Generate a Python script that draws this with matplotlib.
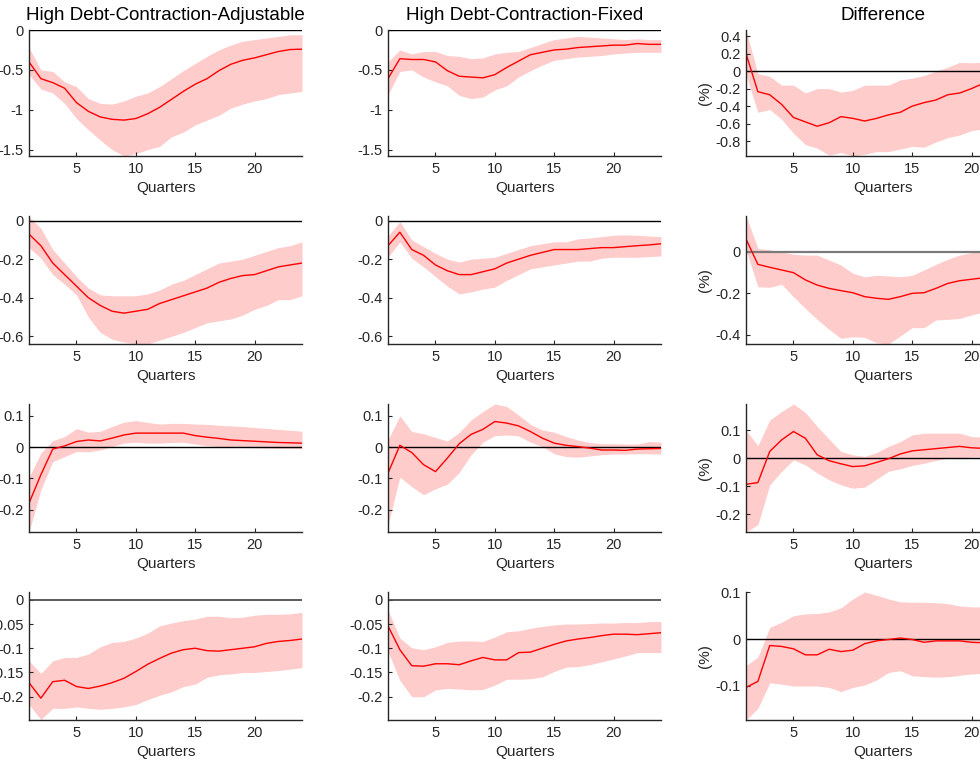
import numpy as np
import matplotlib
matplotlib.use("Agg")
import matplotlib.pyplot as plt
from matplotlib.ticker import FuncFormatter

plt.rcParams['font.family'] = ['Liberation Sans', 'DejaVu Sans']
plt.rcParams['axes.unicode_minus'] = False

# ==============================
# Data
# ==============================
quarters = np.arange(1, 25)

col_titles = ["High Debt-Contraction-Adjustable", "High Debt-Contraction-Fixed", "Difference"]

# row 1
adj1_mid = [-0.40, -0.61, -0.66, -0.73, -0.91, -1.02, -1.09, -1.12, -1.13, -1.11, -1.05, -0.97,
            -0.87, -0.77, -0.68, -0.61, -0.51, -0.43, -0.38, -0.35, -0.31, -0.27, -0.245, -0.24]
adj1_hi = [-0.22, -0.50, -0.52, -0.65, -0.71, -0.86, -0.92, -0.93, -0.89, -0.83, -0.79, -0.71,
           -0.61, -0.51, -0.42, -0.33, -0.25, -0.19, -0.14, -0.12, -0.10, -0.08, -0.06, -0.06]
adj1_lo = [-0.56, -0.74, -0.79, -0.92, -1.11, -1.25, -1.38, -1.50, -1.58, -1.55, -1.50, -1.46,
           -1.34, -1.28, -1.19, -1.13, -1.07, -0.98, -0.93, -0.89, -0.86, -0.81, -0.79, -0.77]
fix1_mid = [-0.61, -0.36, -0.37, -0.37, -0.40, -0.51, -0.58, -0.59, -0.60, -0.56, -0.47, -0.39,
            -0.31, -0.28, -0.25, -0.24, -0.22, -0.21, -0.20, -0.19, -0.19, -0.17, -0.18, -0.18]
fix1_hi = [-0.40, -0.25, -0.30, -0.27, -0.27, -0.32, -0.33, -0.36, -0.35, -0.30, -0.28, -0.27,
           -0.22, -0.17, -0.12, -0.10, -0.08, -0.09, -0.10, -0.11, -0.12, -0.11, -0.12, -0.12]
fix1_lo = [-0.81, -0.52, -0.50, -0.59, -0.65, -0.70, -0.82, -0.86, -0.84, -0.75, -0.70, -0.59,
           -0.51, -0.44, -0.38, -0.36, -0.34, -0.33, -0.32, -0.30, -0.29, -0.28, -0.28, -0.28]
dif1_mid = [0.20, -0.235, -0.27, -0.38, -0.53, -0.58, -0.63, -0.59, -0.52, -0.54, -0.57, -0.54,
            -0.50, -0.47, -0.40, -0.36, -0.33, -0.27, -0.25, -0.20, -0.14, -0.12, -0.10, -0.08]
dif1_hi = [0.47, -0.03, -0.06, -0.16, -0.16, -0.25, -0.20, -0.20, -0.24, -0.22, -0.16, -0.16,
           -0.16, -0.10, -0.08, -0.05, 0.0, 0.045, 0.10, 0.095, 0.10, 0.10, 0.10, 0.10]
dif1_lo = [-0.04, -0.47, -0.44, -0.55, -0.71, -0.84, -0.88, -0.96, -0.93, -0.97, -0.95, -0.92,
           -0.92, -0.89, -0.86, -0.87, -0.81, -0.76, -0.73, -0.68, -0.66, -0.64, -0.62, -0.60]

# row 2
adj2_mid = [-0.07, -0.13, -0.22, -0.28, -0.34, -0.40, -0.44, -0.47, -0.48, -0.47, -0.46, -0.43,
            -0.41, -0.39, -0.37, -0.35, -0.32, -0.30, -0.285, -0.28, -0.26, -0.24, -0.23, -0.22]
adj2_hi = [0.02, -0.04, -0.15, -0.22, -0.29, -0.35, -0.385, -0.39, -0.39, -0.39, -0.38, -0.36,
           -0.33, -0.31, -0.28, -0.25, -0.22, -0.21, -0.20, -0.18, -0.16, -0.14, -0.13, -0.11]
adj2_lo = [-0.14, -0.195, -0.28, -0.33, -0.385, -0.50, -0.58, -0.615, -0.63, -0.64, -0.64, -0.62,
           -0.60, -0.58, -0.555, -0.53, -0.52, -0.51, -0.49, -0.46, -0.44, -0.41, -0.41, -0.39]
fix2_mid = [-0.13, -0.06, -0.15, -0.18, -0.23, -0.26, -0.28, -0.28, -0.265, -0.25, -0.22, -0.20,
            -0.18, -0.165, -0.15, -0.15, -0.15, -0.145, -0.14, -0.14, -0.135, -0.13, -0.126, -0.12]
fix2_hi = [-0.08, -0.005, -0.10, -0.135, -0.17, -0.20, -0.215, -0.20, -0.195, -0.19, -0.17, -0.15,
           -0.13, -0.12, -0.11, -0.11, -0.095, -0.09, -0.083, -0.076, -0.074, -0.076, -0.08, -0.083]
fix2_lo = [-0.19, -0.11, -0.195, -0.24, -0.29, -0.34, -0.38, -0.37, -0.355, -0.345, -0.31, -0.28,
           -0.25, -0.24, -0.23, -0.22, -0.21, -0.21, -0.195, -0.19, -0.19, -0.19, -0.187, -0.183]
dif2_mid = [0.063, -0.06, -0.074, -0.087, -0.10, -0.135, -0.16, -0.176, -0.187, -0.197, -0.216, -0.224,
            -0.229, -0.216, -0.20, -0.197, -0.176, -0.152, -0.139, -0.132, -0.125, -0.115, -0.105, -0.10]
dif2_hi = [0.174, 0.018, 0.01, 0.0, -0.011, -0.015, -0.015, -0.039, -0.063, -0.103, -0.12, -0.113,
           -0.116, -0.12, -0.113, -0.087, -0.06, -0.035, -0.015, -0.003, 0.005, 0.01, 0.01, 0.01]
dif2_lo = [0.01, -0.168, -0.171, -0.156, -0.216, -0.273, -0.326, -0.374, -0.418, -0.41, -0.413, -0.439,
           -0.445, -0.406, -0.366, -0.366, -0.329, -0.326, -0.321, -0.305, -0.29, -0.28, -0.27, -0.26]

# row 3
adj3_mid = [-0.179, -0.088, -0.006, 0.004, 0.018, 0.023, 0.02, 0.029, 0.039, 0.045, 0.045, 0.045,
            0.045, 0.045, 0.037, 0.032, 0.028, 0.023, 0.021, 0.019, 0.017, 0.015, 0.014, 0.013]
adj3_hi = [-0.096, -0.019, 0.021, 0.034, 0.059, 0.048, 0.051, 0.066, 0.080, 0.085, 0.079, 0.074,
           0.076, 0.076, 0.074, 0.073, 0.07, 0.068, 0.066, 0.063, 0.06, 0.057, 0.054, 0.051]
adj3_lo = [-0.271, -0.136, -0.046, -0.03, -0.014, -0.015, -0.009, 0.002, 0.013, 0.016, 0.013, 0.013,
           0.015, 0.016, 0.01, 0.005, 0.002, 0.0, -0.001, -0.002, -0.003, -0.004, -0.004, -0.005]
fix3_mid = [-0.083, 0.006, -0.017, -0.056, -0.078, -0.035, 0.011, 0.041, 0.057, 0.082, 0.077, 0.068,
            0.05, 0.029, 0.013, 0.006, 0.002, -0.003, -0.009, -0.009, -0.01, -0.006, -0.005, -0.004]
fix3_hi = [0.023, 0.10, 0.05, 0.043, 0.031, 0.02, 0.047, 0.087, 0.114, 0.138, 0.13, 0.103,
           0.073, 0.055, 0.048, 0.034, 0.023, 0.015, 0.011, 0.011, 0.01, 0.01, 0.018, 0.016]
fix3_lo = [-0.248, -0.096, -0.126, -0.152, -0.133, -0.118, -0.081, -0.024, 0.016, 0.037, 0.039, 0.036,
           0.016, 0.002, -0.021, -0.03, -0.032, -0.028, -0.024, -0.022, -0.022, -0.021, -0.021, -0.022]
dif3_mid = [-0.093, -0.087, 0.024, 0.065, 0.095, 0.071, 0.012, -0.009, -0.02, -0.03, -0.027, -0.015,
            -0.002, 0.015, 0.026, 0.03, 0.034, 0.038, 0.042, 0.037, 0.035, 0.033, 0.031, 0.03]
dif3_hi = [0.10, 0.044, 0.136, 0.166, 0.193, 0.163, 0.113, 0.068, 0.024, 0.012, 0.006, 0.02,
           0.042, 0.059, 0.083, 0.089, 0.089, 0.089, 0.089, 0.077, 0.075, 0.075, 0.075, 0.075]
dif3_lo = [-0.263, -0.237, -0.095, -0.047, -0.006, -0.024, -0.053, -0.077, -0.095, -0.107, -0.103, -0.075,
           -0.047, -0.038, -0.026, -0.018, -0.008, 0.0, 0.0, 0.004, 0.005, 0.005, 0.005, 0.005]

# row 4
adj4_mid = [-0.171, -0.203, -0.169, -0.166, -0.179, -0.183, -0.178, -0.171, -0.162, -0.148, -0.133, -0.121,
            -0.11, -0.103, -0.10, -0.105, -0.106, -0.103, -0.10, -0.097, -0.09, -0.086, -0.084, -0.081]
adj4_hi = [-0.126, -0.152, -0.126, -0.119, -0.119, -0.112, -0.097, -0.088, -0.086, -0.079, -0.069, -0.054,
           -0.048, -0.043, -0.04, -0.034, -0.034, -0.037, -0.036, -0.032, -0.03, -0.03, -0.029, -0.026]
adj4_lo = [-0.216, -0.247, -0.224, -0.224, -0.221, -0.224, -0.226, -0.224, -0.221, -0.216, -0.206, -0.197,
           -0.19, -0.179, -0.174, -0.16, -0.155, -0.153, -0.15, -0.15, -0.148, -0.146, -0.143, -0.14]
fix4_mid = [-0.054, -0.103, -0.136, -0.137, -0.132, -0.132, -0.134, -0.126, -0.119, -0.124, -0.124, -0.109,
            -0.108, -0.10, -0.092, -0.085, -0.081, -0.078, -0.074, -0.071, -0.071, -0.072, -0.07, -0.068]
fix4_hi = [-0.021, -0.079, -0.099, -0.103, -0.097, -0.088, -0.085, -0.085, -0.086, -0.077, -0.066, -0.064,
           -0.059, -0.055, -0.052, -0.05, -0.05, -0.049, -0.048, -0.048, -0.047, -0.047, -0.045, -0.045]
fix4_lo = [-0.107, -0.166, -0.2, -0.2, -0.186, -0.183, -0.184, -0.186, -0.185, -0.176, -0.164, -0.164,
           -0.163, -0.159, -0.148, -0.139, -0.138, -0.134, -0.128, -0.122, -0.116, -0.109, -0.109, -0.109]
dif4_mid = [-0.104, -0.091, -0.014, -0.016, -0.021, -0.034, -0.034, -0.022, -0.027, -0.024, -0.01, -0.004,
            -0.001, 0.002, -0.001, -0.007, -0.004, -0.004, -0.004, -0.007, -0.008, -0.008, -0.009, -0.01]
dif4_hi = [-0.057, -0.039, 0.025, 0.036, 0.05, 0.054, 0.055, 0.058, 0.067, 0.086, 0.101, 0.094,
           0.086, 0.08, 0.079, 0.079, 0.078, 0.076, 0.071, 0.069, 0.069, 0.069, 0.069, 0.069]
dif4_lo = [-0.174, -0.149, -0.094, -0.097, -0.101, -0.101, -0.101, -0.104, -0.113, -0.104, -0.099, -0.088,
           -0.072, -0.068, -0.079, -0.081, -0.082, -0.081, -0.078, -0.075, -0.074, -0.073, -0.072, -0.072]

panels = [
    [(adj1_mid, adj1_lo, adj1_hi), (fix1_mid, fix1_lo, fix1_hi), (dif1_mid, dif1_lo, dif1_hi)],
    [(adj2_mid, adj2_lo, adj2_hi), (fix2_mid, fix2_lo, fix2_hi), (dif2_mid, dif2_lo, dif2_hi)],
    [(adj3_mid, adj3_lo, adj3_hi), (fix3_mid, fix3_lo, fix3_hi), (dif3_mid, dif3_lo, dif3_hi)],
    [(adj4_mid, adj4_lo, adj4_hi), (fix4_mid, fix4_lo, fix4_hi), (dif4_mid, dif4_lo, dif4_hi)],
]

# axis limits / ticks per row: (left+middle columns, difference column)
row_ylims = [((-1.58, 0), (-0.97, 0.47)),
             ((-0.64, 0.024), (-0.445, 0.174)),
             ((-0.271, 0.138), (-0.263, 0.193)),
             ((-0.248, 0.016), (-0.174, 0.101))]
row_yticks = [([0, -0.5, -1, -1.5], [0.4, 0.2, 0, -0.2, -0.4, -0.6, -0.8]),
              ([0, -0.2, -0.4, -0.6], [0, -0.2, -0.4]),
              ([0.1, 0, -0.1, -0.2], [0.1, 0, -0.1, -0.2]),
              ([0, -0.05, -0.1, -0.15, -0.2], [0.1, 0, -0.1])]

# zero lines drawn several times in the original look grey/thicker in a few panels
zero_style = {(1, 2): ('#7a7a7a', 1.6), (3, 0): ('#4d4d4d', 1.3), (3, 1): ('#4d4d4d', 1.3)}

# ==============================
# Layout (pixels of the 980x763 canvas)
# ==============================
W, H = 980, 763
col_x = [29, 388, 746]
col_w = 273
row_top = [30, 216, 404, 592]
row_bot = [156, 344, 532, 720]
ink = '#262626'

fig = plt.figure(figsize=(W / 100, H / 100), dpi=100)
fmt = FuncFormatter(lambda v, p: '%g' % v)

for r in range(4):
    for c in range(3):
        mid, lo, hi = panels[r][c]
        ax = fig.add_axes([col_x[c] / W, 1 - row_bot[r] / H,
                           col_w / W, (row_bot[r] - row_top[r]) / H])
        ax.fill_between(quarters, lo, hi, color='#ffcccc', lw=0)
        zc, zw = zero_style.get((r, c), ('black', 1.0))
        ax.axhline(0, color=zc, lw=zw)
        ax.plot(quarters, mid, color='red', lw=1.0)
        ax.set_xlim(1, 24)
        k = 1 if c == 2 else 0
        ax.set_ylim(*row_ylims[r][k])
        ax.set_yticks(row_yticks[r][k])
        ax.set_xticks([5, 10, 15, 20])
        ax.yaxis.set_major_formatter(fmt)
        for s in ['top', 'right']:
            ax.spines[s].set_visible(False)
        for s in ['left', 'bottom']:
            ax.spines[s].set_color(ink)
            ax.spines[s].set_linewidth(1.0)
        ax.tick_params(direction='in', length=3, width=0.8, colors=ink,
                       labelsize=10.5, pad=4)
        ax.set_xlabel('Quarters', fontsize=11, color=ink, labelpad=4)
        if c == 2:
            ax.set_ylabel('(%)', fontsize=11, color=ink, labelpad=2)
        if r == 0:
            ax.set_title(col_titles[c], fontsize=13.5, color='black', pad=7)

fig.savefig('out.png', dpi=100)
